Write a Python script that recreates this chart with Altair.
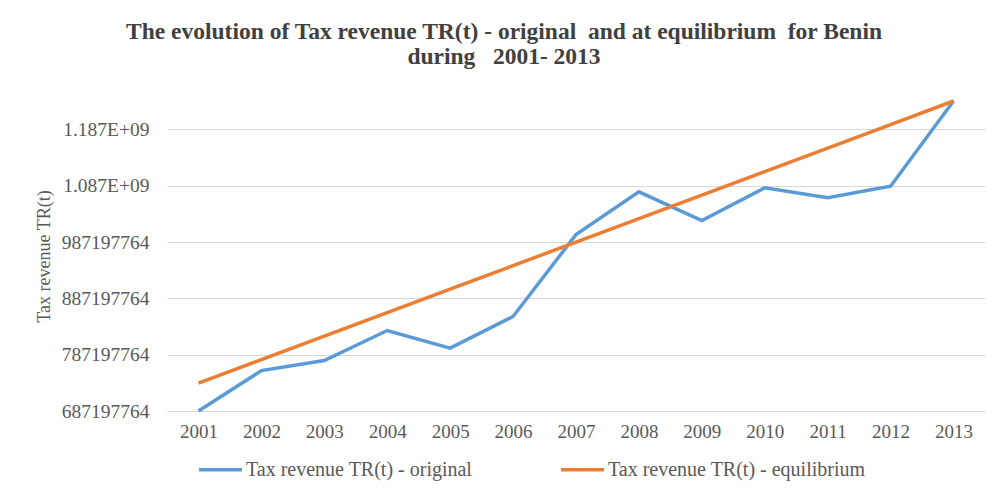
import altair as alt
import pandas as pd

years = ["2001", "2002", "2003", "2004", "2005", "2006", "2007",
         "2008", "2009", "2010", "2011", "2012", "2013"]
original = [687.2e6, 758.9e6, 776.7e6, 830.1e6, 798.8e6, 855.0e6, 1000.4e6,
            1076.3e6, 1025.3e6, 1083.5e6, 1065.7e6, 1086.3e6, 1237.6e6]
equilibrium = [736.5e6, 778.3e6, 820.0e6, 861.8e6, 903.5e6, 945.3e6, 987.1e6,
               1028.8e6, 1070.6e6, 1112.3e6, 1154.1e6, 1195.8e6, 1237.6e6]
series_names = ["Tax revenue TR(t) - original", "Tax revenue TR(t) - equilibrium"]
y_ticks = [687197764, 787197764, 887197764, 987197764, 1087197764, 1187197764]

rows = []
for i, yr in enumerate(years):
    rows.append({"year": yr, "value": original[i], "series": series_names[0]})
    rows.append({"year": yr, "value": equilibrium[i], "series": series_names[1]})
df = pd.DataFrame(rows)

font = "Liberation Serif"
grey = "#595959"
nb = "\u00a0"

chart = alt.Chart(df).mark_line(strokeWidth=3.5).encode(
    x=alt.X("year:O",
            scale=alt.Scale(type="point", padding=0.5),
            axis=alt.Axis(title=None, labelAngle=0, ticks=False, grid=False,
                          domainColor="#d9d9d9", labelPadding=11)),
    y=alt.Y("value:Q",
            scale=alt.Scale(domain=[687197764, 1237600000], nice=False, zero=False),
            axis=alt.Axis(title="Tax revenue TR(t)", values=y_ticks, ticks=False,
                          domain=False, gridColor="#d9d9d9", labelPadding=18,
                          titlePadding=8, labelFontSize=19.5,
                          labelExpr="datum.value >= 1000000000 ? replace(format(datum.value, '.3e'), 'e+', 'E+0') : format(datum.value, 'd')")),
    color=alt.Color("series:N",
                    scale=alt.Scale(domain=series_names, range=["#5B9BD5", "#ED7D31"]),
                    legend=alt.Legend(title=None, orient="none", direction="horizontal",
                                      legendX=30, legendY=345, symbolType="stroke",
                                      symbolSize=1850, symbolStrokeWidth=3.5,
                                      labelOffset=2, columnPadding=80, labelLimit=0,
                                      labelFont=font, labelFontSize=20,
                                      labelColor=grey)),
).properties(
    width=818,
    height=310,
    title=alt.Title(
        ["The evolution of Tax revenue TR(t) - original" + nb + " and at equilibrium" + nb + "  for Benin",
         "during" + nb + nb + " 2001- 2013"],
        font=font, fontSize=23.5, fontWeight="bold", color="#404040",
        anchor="middle", dx=-72, offset=26, lineHeight=25),
    autosize="none",
    padding={"left": 159, "top": 93, "right": 2, "bottom": 80},
).configure_axis(
    labelFont=font, labelFontSize=19, labelColor=grey,
    titleFont=font, titleFontSize=18, titleColor=grey, titleFontWeight="normal",
).configure_view(stroke=None)

chart.save("out.html", embed_options={"renderer": "svg", "actions": False})
